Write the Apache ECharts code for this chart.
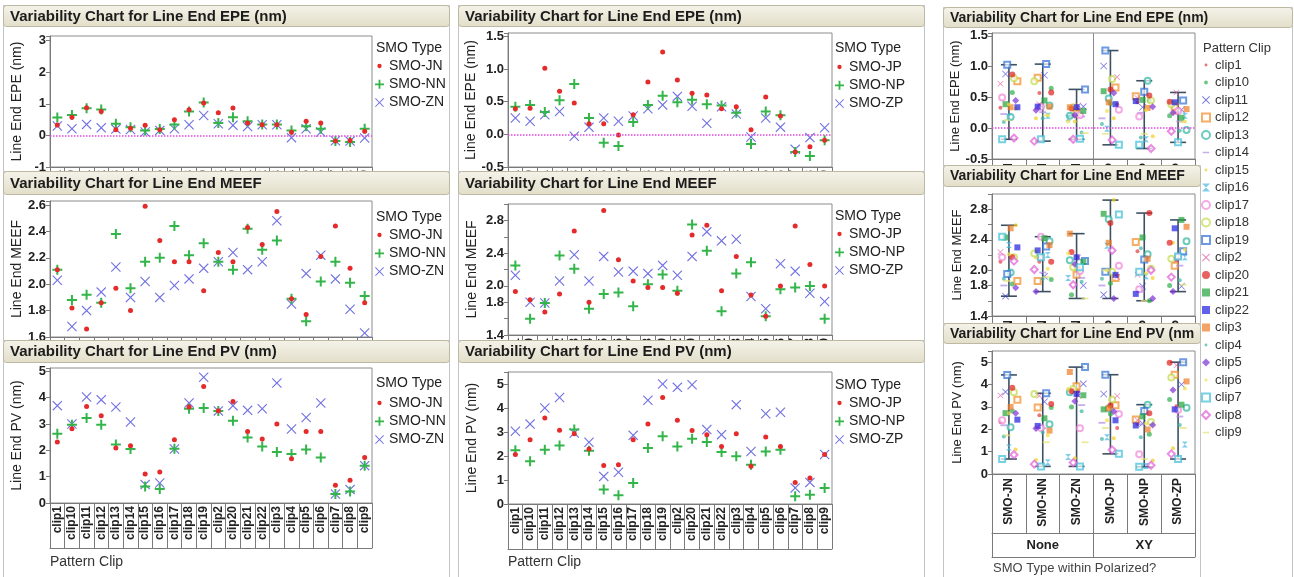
<!DOCTYPE html>
<html><head><meta charset="utf-8">
<script src="https://cdn.jsdelivr.net/npm/echarts@6/dist/echarts.min.js"></script>
<style>html,body{margin:0;padding:0;background:#fff}#c{width:1294px;height:577px}</style>
</head><body><div id="c"></div>
<script>
// ---------------- DATA ----------------
const clips = ['clip1','clip10','clip11','clip12','clip13','clip14','clip15','clip16','clip17','clip18','clip19','clip2','clip20','clip21','clip22','clip3','clip4','clip5','clip6','clip7','clip8','clip9'];
const smoNone = ['SMO-JN','SMO-NN','SMO-ZN'];
const smoXY = ['SMO-JP','SMO-NP','SMO-ZP'];
const polarized = ['None','XY'];
const meefLabelTicks = [1.4,1.8,2.0,2.4,2.8];

const epeJN = [0.33,0.58,0.88,0.76,0.18,0.23,0.32,0.18,0.50,0.81,1.03,0.72,0.87,0.39,0.34,0.34,0.10,0.45,0.39,-0.18,-0.16,0.13];
const epeNN = [0.57,0.65,0.86,0.82,0.37,0.26,0.16,0.20,0.35,0.76,1.04,0.39,0.58,0.45,0.35,0.35,0.16,0.29,0.21,-0.18,-0.21,0.21];
const epeZN = [0.30,0.21,0.35,0.24,0.20,0.19,0.11,0.16,0.21,0.34,0.63,0.37,0.32,0.28,0.34,0.34,-0.07,0.21,0.11,-0.17,-0.18,-0.08];
const epeJP = [0.39,0.40,1.01,0.66,0.48,0.16,0.16,-0.01,0.30,0.80,1.26,0.83,0.63,0.60,0.39,0.42,0.07,0.57,0.28,-0.27,-0.19,-0.09];
const epeNP = [0.42,0.45,0.34,0.52,0.77,0.25,-0.13,-0.18,0.19,0.45,0.59,0.49,0.53,0.46,0.44,0.33,-0.15,0.35,0.29,-0.27,-0.33,-0.09];
const epeZP = [0.25,0.20,0.30,0.35,-0.03,0.11,0.25,0.20,0.28,0.39,0.45,0.58,0.43,0.17,0.42,0.31,-0.04,0.25,0.11,-0.23,-0.05,0.10];

const meefJN = [2.11,1.82,1.66,1.86,1.97,1.80,2.59,2.33,2.17,2.17,1.95,2.24,2.17,2.43,2.30,2.55,1.89,1.77,2.21,2.44,2.12,1.86];
const meefNN = [2.11,1.88,1.92,1.86,2.38,1.97,2.17,2.20,2.44,2.22,2.31,2.17,2.11,2.42,2.26,2.33,1.89,1.72,2.02,2.17,2.01,1.91];
const meefZN = [2.03,1.68,1.80,1.94,2.13,1.90,2.02,1.90,1.99,2.04,2.12,2.17,2.24,2.11,2.17,2.48,1.85,2.08,2.22,2.04,1.81,1.63];
const meefJP = [1.93,1.83,1.68,1.90,2.67,1.80,2.92,2.32,2.06,1.98,1.98,1.91,2.62,2.74,1.94,2.36,1.89,1.63,2.00,2.73,2.26,2.00];
const meefNP = [2.25,1.60,1.79,2.37,2.21,1.72,1.90,1.92,1.75,2.02,2.14,1.94,2.75,2.43,1.69,2.15,2.29,1.63,1.96,1.98,2.00,1.60];
const meefZP = [2.13,1.80,1.79,2.06,2.38,2.06,2.36,2.17,2.18,2.15,2.25,2.13,2.36,2.66,2.55,2.57,1.87,1.72,2.27,2.18,1.91,1.81];

const pvJN = [2.32,2.82,3.67,3.32,2.09,2.18,1.10,1.18,2.40,3.65,4.43,3.51,3.86,2.72,2.43,3.00,1.68,2.72,2.72,0.67,0.86,1.73];
const pvNN = [2.63,2.97,3.23,2.97,2.22,2.05,0.63,0.53,2.06,3.58,3.61,3.50,3.13,2.49,2.15,1.94,1.86,2.03,1.73,0.34,0.44,1.42];
const pvZN = [3.70,3.00,4.03,3.92,3.65,3.08,0.70,0.76,2.05,3.80,4.78,3.50,3.70,3.52,3.58,4.56,2.81,3.25,3.80,0.34,0.51,1.42];
const pvJP = [2.06,2.68,3.58,3.07,2.93,2.29,1.60,1.64,2.68,3.33,4.44,3.49,3.06,2.89,2.40,2.93,1.57,2.79,2.40,0.90,1.08,2.06];
const pvNP = [2.24,1.78,2.26,2.44,3.10,2.22,0.60,0.36,0.88,2.33,2.82,2.40,2.72,2.58,2.17,1.99,1.64,2.19,2.26,0.32,0.39,0.67];
const pvZP = [3.03,3.33,4.00,4.44,2.96,2.57,1.15,1.32,2.86,4.32,5.00,4.86,4.97,3.10,2.89,4.14,2.19,3.76,3.82,0.67,0.90,2.06];

const values = {
  EPE:  {'SMO-JN':epeJN,'SMO-NN':epeNN,'SMO-ZN':epeZN,'SMO-JP':epeJP,'SMO-NP':epeNP,'SMO-ZP':epeZP},
  MEEF: {'SMO-JN':meefJN,'SMO-NN':meefNN,'SMO-ZN':meefZN,'SMO-JP':meefJP,'SMO-NP':meefNP,'SMO-ZP':meefZP},
  PV:   {'SMO-JN':pvJN,'SMO-NN':pvNN,'SMO-ZN':pvZN,'SMO-JP':pvJP,'SMO-NP':pvNP,'SMO-ZP':pvZP}
};

// ---------------- LAYOUT / STYLE ----------------
const FONT = "'Liberation Sans', Arial, sans-serif";
const CH = 577;
const PLUS = 'path://M0,4H10V6H0Z M4,0H6V10H4Z';
const XMARK = 'path://M0.8,0L5,4.2L9.2,0L10,0.8L5.8,5L10,9.2L9.2,10L5,5.8L0.8,10L0,9.2L4.2,5L0,0.8Z';
const DASH = 'path://M0,0H10V2.6H0Z';
const BOW = 'path://M0,0H10L0,10H10Z';
const PAD = 'M0,0H0.01V0.01H0Z M9.99,9.99H10V10H9.99Z ';
const DOT_S = 'path://' + PAD + 'M5,3.2A1.8,1.8,0,1,1,5,6.8A1.8,1.8,0,1,1,5,3.2Z';
const DOT_M = 'path://' + PAD + 'M5,2.6A2.4,2.4,0,1,1,5,7.4A2.4,2.4,0,1,1,5,2.6Z';
const DASH_L = 'path://' + PAD + 'M1,4H9V6H1Z';

const rowsDef = [
  {m:'EPE', title:'Variability Chart for Line End EPE (nm)', yName:'Line End EPE (nm)', zero:true},
  {m:'MEEF', title:'Variability Chart for Line End MEEF', yName:'Line End MEEF'},
  {m:'PV', title:'Variability Chart for Line End PV (nm)', yName:'Line End PV (nm)'}
];
const colsDef = [
  {x:3, textX:10, titleFont:15, gridL:50, gridW:322, nameGap:26, nameFont:14, legL:375, legTitleX:376, types:smoNone},
  {x:458, textX:465, titleFont:15, gridL:508, gridW:324, nameGap:29, nameFont:14, legL:835, legTitleX:835, types:smoXY},
  {x:943, textX:950, titleFont:14, gridL:992, gridW:203, nameGap:28, nameFont:13}
];
// bar:[top,width,height], g:[gridTop,gridHeight], y:[min,max,interval,decimals,subsetLabels], leg:[legendTop,legendTitleY]
const panelDef = [
  [ {bar:[5,446,21], g:[36,131], y:[-1,3.15,1,0], leg:[59,48]},
    {bar:[5,466,21], g:[33,134], y:[-0.5,1.55,0.5,1], leg:[60,48]},
    {bar:[7,349,20], g:[33,126], y:[-0.5,1.545,0.5,1]} ],
  [ {bar:[171,446,23], g:[201,136], y:[1.6,2.63,0.2,1], leg:[228,217]},
    {bar:[171,466,23], g:[204,131], y:[1.4,3.0,0.2,1,true], leg:[227,216]},
    {bar:[165,257,21], g:[194,122], y:[1.4,3.0,0.2,1,true]} ],
  [ {bar:[340,446,22], g:[368,135], y:[0,5.13,1,0], leg:[396,383]},
    {bar:[340,466,22], g:[372,132], y:[0,5.5,1,0], leg:[396,385]},
    {bar:[323,257,20], g:[351,123], y:[0,5.5,1,0]} ]
];
const smoMarks = [
  {symbol:'circle', size:5, color:'#e42a2a', icon:DOT_M},
  {symbol:PLUS, size:10, color:'#33b54a', icon:PLUS},
  {symbol:XMARK, size:10, color:'#7272e2', icon:XMARK}
];
const clipMarks = [
  {s:'circle', sz:4, c:'#e23b3b', icon:DOT_S}, {s:'circle', sz:5, c:'#2daf4a', icon:DOT_M}, {s:XMARK, sz:7, c:'#3a3ad8'},
  {s:'emptyRect', sz:6, c:'#f28a22'}, {s:'emptyCircle', sz:6, c:'#2fb5a3'}, {s:DASH, sz:7, c:'#b08ae6', icon:DASH_L},
  {s:'circle', sz:4, c:'#efcf1f', icon:DOT_S}, {s:BOW, sz:6, c:'#47b8e2'}, {s:'emptyCircle', sz:6, c:'#ef86d8'},
  {s:'emptyCircle', sz:6, c:'#c2dc4c'}, {s:'emptyRect', sz:6, c:'#2f6fd4'}, {s:XMARK, sz:6, c:'#e34b9c'},
  {s:'circle', sz:6, c:'#e01c1c'}, {s:'rect', sz:6, c:'#23a23a'}, {s:'rect', sz:6, c:'#1d1de0'},
  {s:'rect', sz:6, c:'#ef7a24'}, {s:'circle', sz:4, c:'#3db4a2', icon:DOT_S}, {s:'diamond', sz:7, c:'#7a30d4'},
  {s:'circle', sz:4, c:'#f2dd3c', icon:DOT_S}, {s:'emptyRect', sz:6, c:'#3cbfd6'}, {s:'emptyDiamond', sz:7, c:'#e05cd6'},
  {s:DASH, sz:7, c:'#e6e070', icon:DASH_L}
];
function jitter(i, k) { return (((i * 7 + k * 3) % 11) / 10 - 0.5) * 0.5; }
function makeFmt(min, int, dec, subset) {
  return function (v) {
    const q = (v - min) / int;
    if (Math.abs(q - Math.round(q)) > 1e-6) return '';
    if (subset && !meefLabelTicks.some(t => Math.abs(t - v) < 1e-6)) return '';
    return dec === 0 ? String(Math.round(v)) : v.toFixed(dec);
  };
}
const zeroLineStyle = {color:'#e048e0', type:'dotted', width:1.5};
const zeroLine = {silent:true, symbol:['none','none'], label:{show:false}, lineStyle:zeroLineStyle, data:[{yAxis:0}]};
const axisGray = '#7a7a7a';

const option = {animation:false, backgroundColor:'#fff', grid:[], xAxis:[], yAxis:[], series:[], legend:[], graphic:{elements:[]}};
const G = option.graphic.elements;

rowsDef.forEach((row, r) => {
  colsDef.forEach((col, c) => {
    const p = panelDef[r][c];
    const base = 10 * r;
    const gi = option.grid.length;
    const [bTop, bW, bH] = p.bar;
    const [gTop, gH] = p.g;
    const [yMin, yMax, yInt, yDec, ySub] = p.y;

    G.push({type:'rect', z:base, shape:{x:col.x + 0.5, y:bTop + 0.5, width:bW, height:CH - bTop + 10},
      style:{fill:'#fff', stroke:'#c4c4c4', lineWidth:1}});
    G.push({type:'rect', z:base + 1, shape:{x:col.x + 0.5, y:bTop + 0.5, width:bW, height:bH, r:3},
      style:{fill:{type:'linear', x:0, y:0, x2:0, y2:1, colorStops:[{offset:0, color:'#f5f3ea'}, {offset:1, color:'#e2dec9'}]},
        stroke:'#bcb8a2', lineWidth:1}});
    G.push({type:'text', z:base + 1, x:col.textX, y:bTop + bH / 2 + 1,
      style:{text:row.title, fontSize:col.titleFont, fontWeight:'bold', fontFamily:FONT, fill:'#1c1c1c',
        verticalAlign:'middle', width:bW - (col.textX - col.x) - 2, overflow:'truncate', ellipsis:''}});

    option.grid.push({left:col.gridL, top:gTop, width:col.gridW, height:gH, show:true, borderColor:'#8c8c8c',
      borderWidth:1, backgroundColor:'#fff', z:base + 2, outerBoundsMode:'none', containLabel:false});
    option.yAxis.push({type:'value', gridIndex:gi, min:yMin, max:yMax, interval:yInt, z:base + 2,
      name:row.yName, nameLocation:'middle', nameGap:col.nameGap,
      nameTextStyle:{fontSize:col.nameFont, color:'#222', fontFamily:FONT},
      axisLine:{show:true, onZero:false, lineStyle:{color:axisGray}},
      axisTick:{show:true, length:4, lineStyle:{color:axisGray}},
      splitLine:{show:false},
      axisLabel:{fontSize:13, fontWeight:'bold', color:'#222', fontFamily:FONT, margin:4, formatter:makeFmt(yMin, yInt, yDec, ySub)}});
    const yi = option.yAxis.length - 1;

    if (c < 2) {
      option.xAxis.push({type:'category', gridIndex:gi, position:'bottom', data:clips, boundaryGap:true, z:base + 2,
        axisLine:{show:true, onZero:false, lineStyle:{color:axisGray}},
        axisTick:{show:true, interval:0, length:45, lineStyle:{color:axisGray}},
        axisLabel:{interval:0, rotate:90, margin:3, fontSize:12, fontWeight:'bold', color:'#222', fontFamily:FONT},
        splitLine:{show:false}});
      const xi = option.xAxis.length - 1;
      option.xAxis.push({type:'category', gridIndex:gi, position:'bottom', offset:45, data:clips, z:base + 2,
        axisLine:{show:true, onZero:false, lineStyle:{color:axisGray}}, axisTick:{show:false}, axisLabel:{show:false}, splitLine:{show:false}});
      [2, 1, 0].forEach(k => {
        const t = col.types[k], mk = smoMarks[k];
        const s = {type:'scatter', name:t, xAxisIndex:xi, yAxisIndex:yi, data:values[row.m][t].slice(),
          symbol:mk.symbol, symbolSize:mk.size, symbolKeepAspect:true,
          itemStyle:{color:mk.color, opacity:1}, z:base + 4, silent:true};
        if (row.zero && k === 2) s.markLine = zeroLine;
        option.series.push(s);
      });
      option.legend.push({data:col.types.map((t, k) => ({name:t, icon:smoMarks[k].icon})),
        orient:'vertical', left:col.legL, top:p.leg[0], itemWidth:9, itemHeight:9,
        itemGap:4.3, padding:0, selectedMode:false, z:base + 5,
        textStyle:{fontSize:14, color:'#222', fontFamily:FONT, lineHeight:14}});
      G.push({type:'text', z:base + 5, x:col.legTitleX, y:p.leg[1],
        style:{text:'SMO Type', fontSize:14, fontFamily:FONT, fill:'#222', verticalAlign:'middle'}});
      if (r === 2) {
        G.push({type:'text', z:base + 5, x:col.gridL, y:562,
          style:{text:'Pattern Clip', fontSize:14, fontFamily:FONT, fill:'#333', verticalAlign:'middle'}});
      }
    } else {
      const types = smoNone.concat(smoXY);
      option.xAxis.push({type:'value', gridIndex:gi, min:-0.5, max:5.5, show:false, axisLine:{onZero:false}});
      const xa = option.xAxis.length - 1;
      option.xAxis.push({type:'category', gridIndex:gi, position:'bottom', data:types, z:base + 2,
        axisLine:{show:true, onZero:false, lineStyle:{color:axisGray}},
        axisTick:{show:true, interval:0, length:59, lineStyle:{color:axisGray}},
        axisLabel:{interval:0, rotate:90, margin:4, fontSize:12, fontWeight:'bold', color:'#222', fontFamily:FONT},
        splitLine:{show:false}});
      option.xAxis.push({type:'category', gridIndex:gi, position:'bottom', offset:59, data:polarized, z:base + 2,
        axisLine:{show:true, onZero:false, lineStyle:{color:axisGray}},
        axisTick:{show:true, interval:0, length:24, lineStyle:{color:axisGray}},
        axisLabel:{interval:0, margin:6, fontSize:13, fontWeight:'bold', color:'#222', fontFamily:FONT},
        splitLine:{show:false}});
      option.xAxis.push({type:'category', gridIndex:gi, position:'bottom', offset:83, data:polarized, z:base + 2,
        axisLine:{show:true, onZero:false, lineStyle:{color:axisGray}}, axisTick:{show:false}, axisLabel:{show:false}, splitLine:{show:false}});

      const marks = [{xAxis:smoNone.length - 0.5, lineStyle:{color:'#8c8c8c', type:'solid', width:1}}];
      if (row.zero) marks.push({yAxis:0, lineStyle:zeroLineStyle});
      const range = {type:'custom', xAxisIndex:xa, yAxisIndex:yi, z:base + 3, silent:true,
        data:types.map((t, k) => { const v = values[row.m][t]; return [k, Math.min(...v), Math.max(...v)]; }),
        renderItem:function (params, api) {
          const x = api.value(0);
          const lo = api.coord([x, api.value(1)]), hi = api.coord([x, api.value(2)]);
          const hw = 8, st = {stroke:'#3d5163', lineWidth:1.6};
          return {type:'group', children:[
            {type:'line', shape:{x1:lo[0], y1:lo[1], x2:hi[0], y2:hi[1]}, style:st},
            {type:'line', shape:{x1:lo[0] - hw, y1:lo[1], x2:lo[0] + hw, y2:lo[1]}, style:st},
            {type:'line', shape:{x1:hi[0] - hw, y1:hi[1], x2:hi[0] + hw, y2:hi[1]}, style:st}
          ]};
        },
        markLine:{silent:true, symbol:['none','none'], label:{show:false}, data:marks}};
      option.series.push(range);
      clips.forEach((cl, i) => {
        const mk = clipMarks[i];
        option.series.push({type:'scatter', name:cl, xAxisIndex:xa, yAxisIndex:yi, z:base + 4, silent:true,
          symbol:mk.s, symbolSize:mk.sz, symbolKeepAspect:true,
          itemStyle:{color:mk.c, opacity:0.7},
          data:types.map((t, k) => [k + jitter(i, k), values[row.m][t][i]])});
      });
      if (r === 2) {
        G.push({type:'text', z:base + 5, x:col.gridL + 1, y:568,
          style:{text:'SMO Type within Polarized?', fontSize:13, fontFamily:FONT, fill:'#444', verticalAlign:'middle'}});
      }
    }
  });
});

option.legend.push({data:clips.map((cl, i) => clipMarks[i].icon ? {name:cl, icon:clipMarks[i].icon} : {name:cl}),
  orient:'vertical', left:1201, top:58, itemWidth:8, itemHeight:8, itemGap:3.5,
  padding:0, selectedMode:false, z:45, textStyle:{fontSize:13, color:'#333', fontFamily:FONT, lineHeight:14}});
G.push({type:'text', z:45, x:1203, y:48,
  style:{text:'Pattern Clip', fontSize:13, fontFamily:FONT, fill:'#333', verticalAlign:'middle'}});

const chart = echarts.init(document.getElementById('c'), null, {renderer:'canvas'});
chart.setOption(option);
</script>
</body></html>
